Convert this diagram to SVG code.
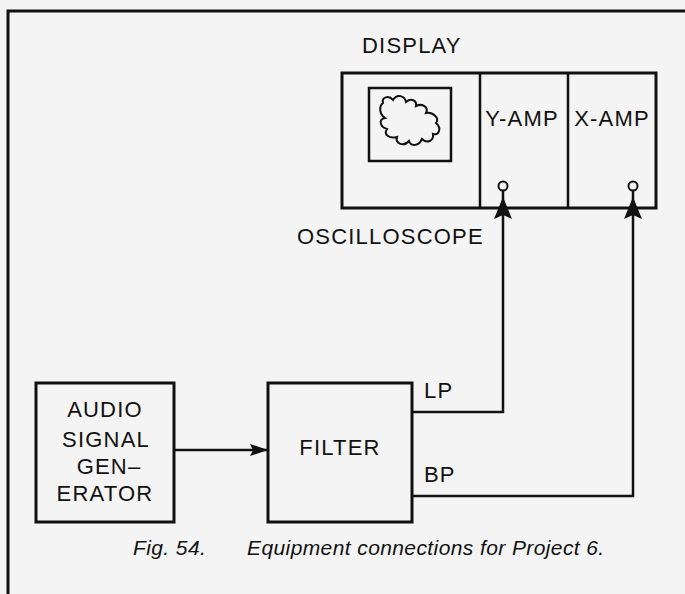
<svg xmlns="http://www.w3.org/2000/svg" width="685" height="594" viewBox="0 0 685 594">
  <defs>
    <style>
      .box { fill: none; stroke: #111; stroke-width: 3; }
      .thin { fill: none; stroke: #111; stroke-width: 2.5; }
      .wire { fill: none; stroke: #111; stroke-width: 2.5; }
      .lbl { font-family: "Liberation Sans", Arial, sans-serif; font-size: 22px; fill: #111; letter-spacing: 1.2px; }
      .cap { font-family: "Liberation Sans", Arial, sans-serif; font-size: 21px; font-style: italic; fill: #111; letter-spacing: 0.4px; }
    </style>
    <marker id="vArrow" markerUnits="userSpaceOnUse" markerWidth="30" markerHeight="20" refX="28" refY="10" orient="auto">
      <path d="M0,1 L22,10 L0,19 L4,10 Z" fill="#111"/>
    </marker>
    <marker id="hArrow" markerUnits="userSpaceOnUse" markerWidth="20" markerHeight="14" refX="18" refY="7" orient="auto">
      <path d="M0,1 L18,7 L0,13 L3,7 Z" fill="#111"/>
    </marker>
  </defs>
  <rect width="685" height="594" fill="#f4f4f4"/>

  <g id="frame">
    <path d="M8,594 V11 H685" class="box"/>
  </g>

  <g id="oscilloscope">
    <text x="362" y="53" class="lbl">DISPLAY</text>
    <rect x="342" y="73" width="314" height="135" class="box"/>
    <line x1="480" y1="73" x2="480" y2="208" class="thin"/>
    <line x1="568" y1="73" x2="568" y2="208" class="thin"/>
    <text x="297" y="244" class="lbl">OSCILLOSCOPE</text>
  </g>

  <g id="screen">
    <rect x="369" y="88" width="82" height="73" class="thin"/>
    <path d="M383,103 C381,97 389,95 393,100 C397,93 405,96 406,102 C411,98 417,100 416,106 C422,103 429,107 426,113 C433,112 440,118 436,123 C442,128 439,136 433,134 C434,141 427,144 422,139 C419,146 411,147 409,141 C404,147 395,144 397,137 C390,139 383,135 387,129 C380,127 378,119 385,118 C379,114 379,106 383,103 Z" fill="none" stroke="#111" stroke-width="2"/>
  </g>

  <g id="y-amp">
    <text x="522" y="126" class="lbl" text-anchor="middle">Y-AMP</text>
    <circle cx="503" cy="186" r="4.5" fill="#f4f4f4" stroke="#111" stroke-width="2"/>
  </g>

  <g id="x-amp">
    <text x="612" y="126" class="lbl" text-anchor="middle">X-AMP</text>
    <circle cx="633" cy="186" r="4.5" fill="#f4f4f4" stroke="#111" stroke-width="2"/>
  </g>

  <g id="audio-generator">
    <rect x="36" y="383" width="138" height="139" class="box"/>
    <text x="105" y="417" class="lbl" text-anchor="middle">AUDIO</text>
    <text x="106" y="447" class="lbl" text-anchor="middle">SIGNAL</text>
    <text x="109" y="474" class="lbl" text-anchor="middle">GEN–</text>
    <text x="105" y="501" class="lbl" text-anchor="middle">ERATOR</text>
  </g>

  <g id="filter">
    <rect x="268" y="383" width="144" height="139" class="box"/>
    <text x="340" y="455" class="lbl" text-anchor="middle">FILTER</text>
    <text x="424" y="398" class="lbl">LP</text>
    <text x="424" y="482" class="lbl">BP</text>
  </g>

  <g id="connectors">
    <path d="M174,450 H268" class="wire" marker-end="url(#hArrow)"/>
    <path d="M412,412 H503 V191" class="wire" marker-end="url(#vArrow)"/>
    <path d="M412,496 H633 V191" class="wire" marker-end="url(#vArrow)"/>
  </g>

  <g id="caption">
    <text x="133" y="555" class="cap">Fig. 54.</text>
    <text x="247" y="555" class="cap">Equipment connections for Project 6.</text>
  </g>
</svg>
